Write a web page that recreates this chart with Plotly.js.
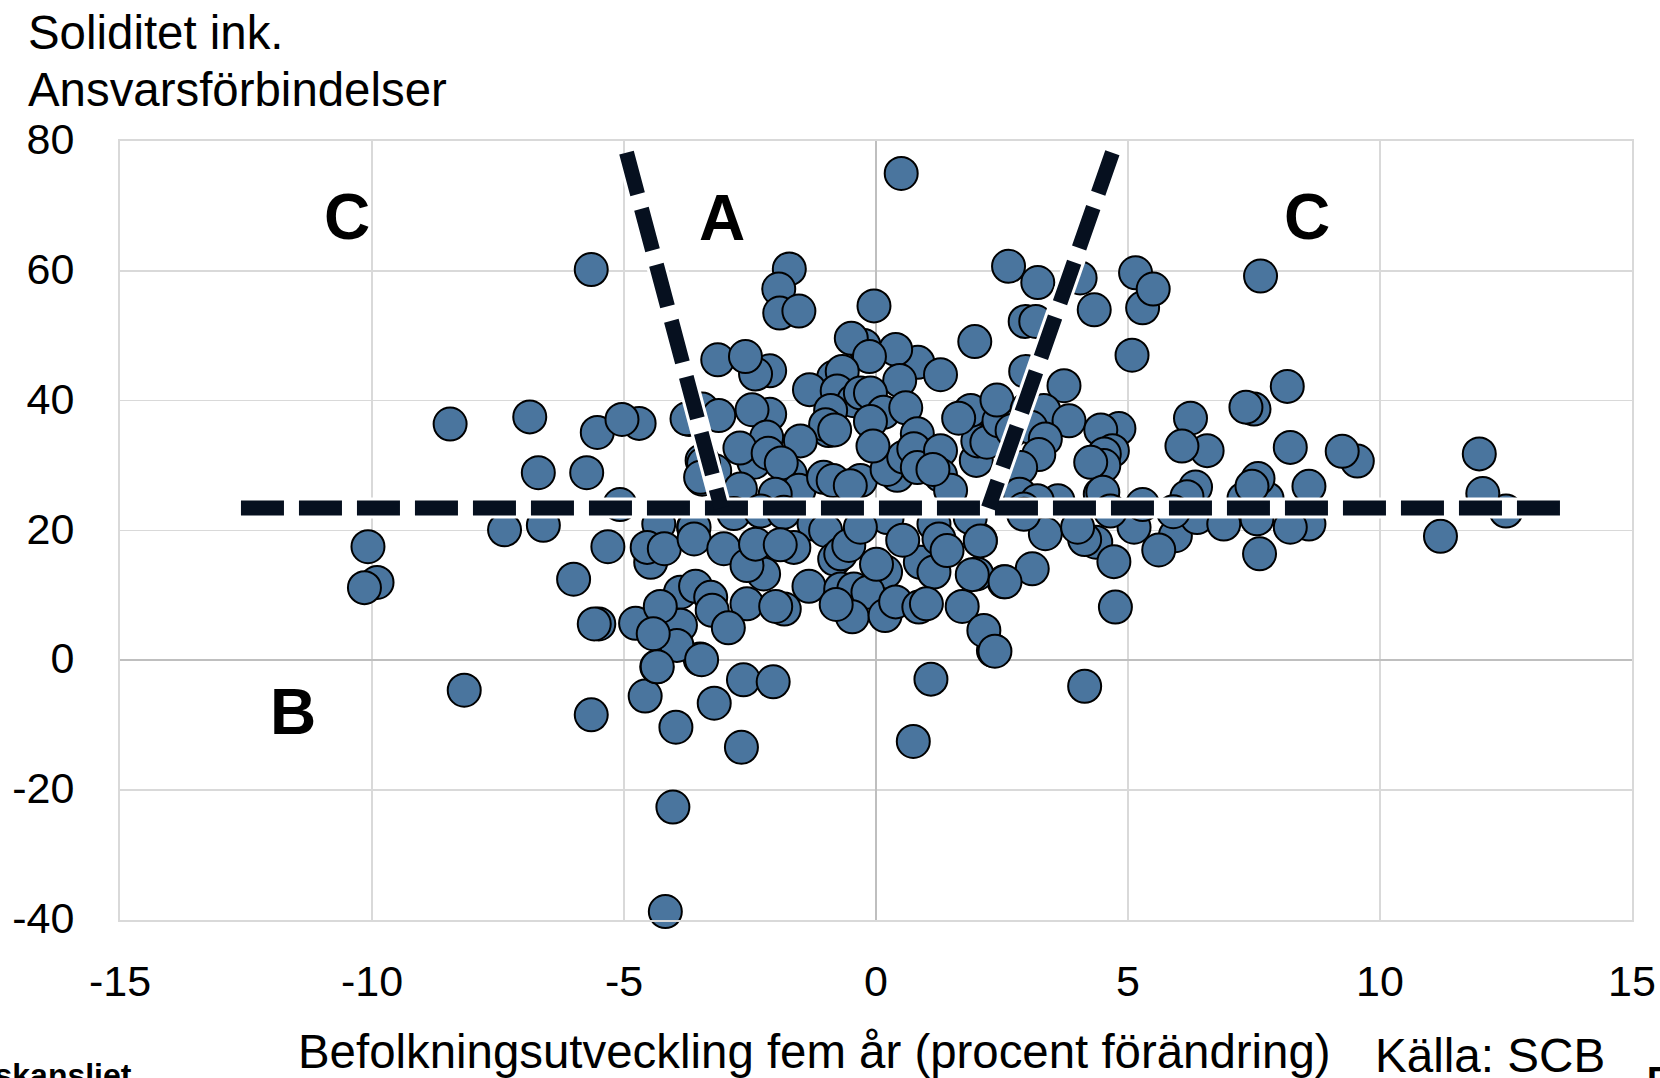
<!DOCTYPE html>
<html><head><meta charset="utf-8">
<script src="https://cdn.plot.ly/plotly-3.0.1.min.js"></script>
<style>html,body{margin:0;padding:0;background:#fff;overflow:hidden}</style>
</head><body><div id="chart" style="width:1660px;height:1078px"></div>
<script>
const pointsX = [
-3.14,-2.11,-2.39,-2.59,-0.24,-0.49,0.83,0.39,-0.13,1.28,1.96,-0.84,-0.67,0.47,-1.32,-0.77,-0.44,-0.31,-0.11,
-0.9,0.15,0.59,-0.11,0.82,-3.45,-3.12,-3.71,-2.11,-2.46,-0.94,-1.0,-0.82,-2.17,-2.42,-2.7,-1.5,-2.14,-1.7,-1.88,
-1.53,-3.45,-3.45,-3.2,-2.69,-2.0,-1.04,-0.85,-0.31,-0.51,0.42,0.22,0.55,0.75,0.82,1.28,1.28,1.48,-0.06,1.13,
1.99,2.02,2.2,1.88,1.64,2.44,2.7,2.97,3.73,2.4,3.0,3.33,3.83,3.07,3.36,3.23,2.87,
4.82,4.46,4.69,4.53,4.52,4.26,6.24,6.57,6.07,6.34,6.17,8.16,7.5,7.34,8.22,9.55,9.25,7.76,7.3,7.58,7.46,
8.59,4.45,4.5,3.61,2.85,3.2,2.93,3.36,4.36,4.14,4.72,5.12,4.0,4.65,5.94,5.61,6.37,6.9,
7.56,7.61,8.59,8.22,3.1,2.54,2.07,2.0,
0.5,-5.65,-1.72,-1.93,-1.91,-1.53,-0.04,2.63,3.21,4.05,2.96,3.17,4.33,5.15,5.29,5.5,5.08,7.63,
-8.45,-6.87,-4.7,-5.53,-5.04,-6.7,-5.74,-5.08,-7.37,-6.6,-10.08,-9.9,-10.15,-5.32,-6.0,-5.5,-5.59,
-8.17,-5.65,-4.58,-3.97,-3.21,-2.67,-2.63,-2.04,-3.49,-4.35,-4.03,-4.18,0.74,1.09,2.33,4.14,4.75,
11.2,11.97,12.5,12.04,5.9,5.29,
-3.75,-3.42,-3.48,
-4.31,-3.62,-2.82,-2.29,-1.83,0.22,1.15,1.87,-1.23,2.93,
-3.61,-4.47,-4.54,-4.2,-3.61,-3.02,-2.23,-2.56,-2.39,-1.63,-1.9,-1.33,-1.0,-0.82,-0.7,-0.54,-0.31,
0.19,0.88,1.15,0.53,1.25,1.41,2.07,1.91,2.56,
-3.88,-3.58,-3.28,-2.56,-3.25,-1.82,-1.99,-3.88,-4.77,-4.28,-3.95,-4.42,-3.46,-4.34,-2.93,
-0.7,-0.44,-0.16,-0.47,0.18,-0.79,0.39,0.01,0.85,1.0,1.71,2.14,2.36
];
const pointsY = [
46.3,44.6,44.1,46.8,48.5,49.6,45.9,47.9,46.8,44.0,49.1,43.6,44.5,43.1,41.7,41.5,40,41.2,41.2,
38.5,38.2,38.9,36.8,34.9,38.7,37.7,37.1,37.9,38.6,35.4,36.3,35.5,34.4,30.5,32.7,33.8,31.9,28.7,30.4,
26.2,30.8,27.9,29.2,26.4,25.6,28.2,27.7,27.7,26.9,28.5,29.4,31.3,32.6,29.7,32.3,28.5,26.2,33.0,29.4,
30.8,33.8,33.6,38.5,37.3,36.9,35.4,44.5,42.3,40.1,38.7,38.5,36.9,35.9,34.1,31.7,29.7,
35.7,35.5,32.3,31.8,30,30.5,37.3,32.3,33,26.7,25.2,42.2,38.7,39,32.8,30.7,32.2,24.9,24.9,28,26.8,
26.8,25.6,25.9,24.6,25.6,24.6,23.3,19.5,18.2,18.6,15.2,20.5,20.5,23,19.2,17,22,21,
21.8,16.4,21,20.5,14.1,12.1,18.5,13.3,
75,60.2,60.3,57.2,53.5,53.8,54.6,60.7,58.2,58.9,52.2,52.2,54,59.7,54.3,57.2,47,59.2,
36.4,37.5,36.5,35.1,37.1,28.9,28.9,24,20.1,20.8,17.5,12,11.2,17.5,12.5,5.6,5.6,
-4.6,-8.4,-5.5,-10.3,-6.6,-13.4,-3,-3.3,0.2,-1,-22.6,-38.7,-12.5,-2.9,1.5,-4,8.2,
19.1,31.8,23,25.7,22.9,24,
37.2,30.3,28.2,
21,20.5,22.6,23,22.8,22,21,22,21,22.5,
20.5,15.1,17.4,17.2,18.7,17.2,13.3,14.6,17.9,17.4,17.8,11.4,20,15.6,16.4,17.7,20.5,
13.6,15.1,13.6,18.5,18.7,16.9,18.4,13.2,12.1,
10.5,11.4,9.7,8.7,7.7,7.9,8.3,5.4,5.7,8.3,2.3,4.1,0.1,-1,5,
11,11,10.5,6.7,6.9,8.6,9,14.8,8.2,8.7,8.3,4.6,1.4
];
const horizX = [-12.6, 13.6], horizY = [23.46, 23.46];
const leftX = [-4.95, -3.07], leftY = [78.2, 23.46];
const rightX = [4.69, 2.23], rightY = [78.2, 23.46];
const xTicks = [-15,-10,-5,0,5,10,15], xLabels = ['-15','-10','-5','0','5','10','15'];
const yTicks = [-40,-20,0,20,40,60,80], yLabels = ['-40','-20','0','20','40','60','80'];
const yTitle1 = 'Soliditet ink.', yTitle2 = 'Ansvarsförbindelser';
const xTitle = 'Befolkningsutveckling fem år (procent förändring)';
const source = 'Källa: SCB';
const regionLabels = [['C',-10.5,68.3],['A',-3.05,68.2],['C',8.56,68.3],['B',-11.57,-7.9]];

const FF = '"Liberation Sans", Arial, sans-serif', INK = '#06101f';
const halo = (x,y)=>({x,y,mode:'lines',type:'scatter',hoverinfo:'skip',showlegend:false,cliponaxis:false,line:{color:'#ffffff',width:21}});
const dash = (x,y)=>({x,y,mode:'lines',type:'scatter',hoverinfo:'skip',showlegend:false,cliponaxis:false,line:{color:INK,width:15,dash:'43px,15px'}});
const W=1660,H=1078,L=119.5,R=1632,T=140.5,B=920.5;
const px=v=>(v-L)/(R-L), py=v=>(B-v)/(B-T);
const txt=(text,x,y,size,xanchor,bold)=>({x:px(x),y:py(y),xref:'paper',yref:'paper',xanchor:xanchor||'left',yanchor:'bottom',showarrow:false,
  font:{family:FF,size,color:'#000'}, text:bold?'<b>'+text+'</b>':text});
Plotly.newPlot('chart',[
 {x:pointsX,y:pointsY,mode:'markers',type:'scatter',showlegend:false,cliponaxis:false,
  marker:{size:33,color:'#4a759e',line:{color:'#000',width:2}}},
 halo(leftX,leftY),halo(rightX,rightY),halo(horizX,horizY),
 dash(horizX,horizY),dash(leftX,leftY),dash(rightX,rightY)
],{
 width:W,height:H,margin:{l:L,r:W-R,t:T,b:H-B,pad:0},paper_bgcolor:'#fff',plot_bgcolor:'#fff',showlegend:false,
 font:{family:FF,color:'#000'},
 xaxis:{range:[-15,15],tickvals:xTicks,ticktext:xLabels,tickfont:{size:43},ticks:'outside',ticklen:22,tickcolor:'rgba(0,0,0,0)',
   gridcolor:'#d9d9d9',gridwidth:1.5,zeroline:true,zerolinecolor:'#bfbfbf',zerolinewidth:2,showline:true,linecolor:'#d9d9d9',linewidth:2,mirror:true},
 yaxis:{range:[-40,80],tickvals:yTicks,ticktext:yLabels,tickfont:{size:43},ticks:'outside',ticklen:35,tickcolor:'rgba(0,0,0,0)',ticklabelshift:-2,
   gridcolor:'#d9d9d9',gridwidth:1.5,zeroline:true,zerolinecolor:'#bfbfbf',zerolinewidth:2,showline:true,linecolor:'#d9d9d9',linewidth:2,mirror:true},
 annotations:[
  txt(yTitle1,25,60,47.4),txt(yTitle2,25,117,47.4),
  txt(xTitle,296,1081,47.4),txt(source,1373,1085,47.6),
  txt('Riksdagskansliet',134,1096,32,'right',true),txt('F',1645,1104,36,'left',true),
  ...regionLabels.map(r=>({x:r[1],y:r[2],xref:'x',yref:'y',showarrow:false,text:'<b>'+r[0]+'</b>',font:{family:FF,size:64,color:'#000'}}))
 ]
},{displayModeBar:false,staticPlot:true});
</script></body></html>
